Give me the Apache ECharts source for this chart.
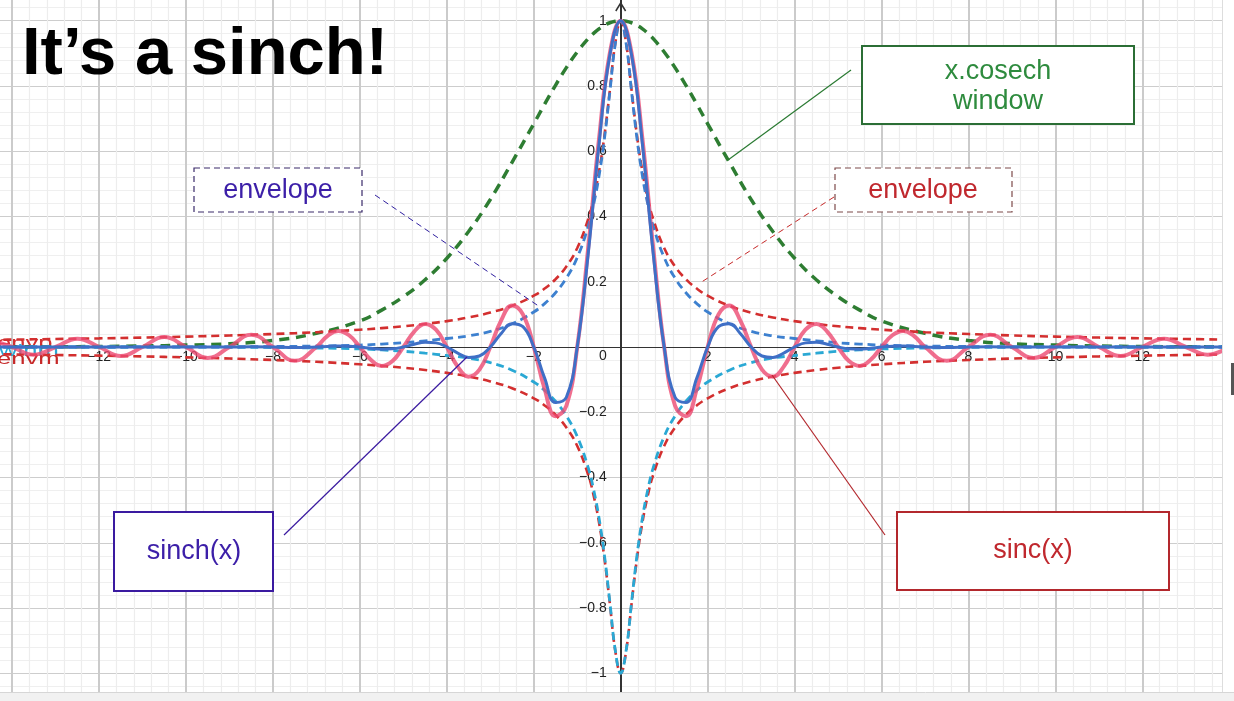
<!DOCTYPE html>
<html>
<head>
<meta charset="utf-8">
<script src="https://cdn.jsdelivr.net/npm/echarts@6/dist/echarts.min.js"></script>
<style>
html,body{margin:0;padding:0;background:#fff;overflow:hidden;}
#c{width:1234px;height:701px;}
</style>
</head>
<body>
<div id="c"></div>
<script>
// ---- data ----
const X_SINC = [-14.5,-14,-13.5,-13,-12.5,-12,-11.5,-11,-10.5,-10,-9.5,-9,-8.5,-8,-7.5,
  -7,-6.75,-6.5,-6.25,-6,-5.75,-5.5,-5.25,-5,-4.75,-4.5,-4.25,-4,-3.75,-3.5,-3.25,-3,-2.75,-2.5,-2.25,-2,-1.75,-1.5,-1.25,-1,-0.75,-0.5,-0.25,
  0,
  0.25,0.5,0.75,1,1.25,1.5,1.75,2,2.25,2.5,2.75,3,3.25,3.5,3.75,4,4.25,4.5,4.75,5,5.25,5.5,5.75,6,6.25,6.5,6.75,7,
  7.5,8,8.5,9,9.5,10,10.5,11,11.5,12,12.5,13,13.5,14];

const SINC = [0.0220,0,-0.0236,0,0.0255,0,-0.0277,0,0.0303,0,-0.0335,0,0.0374,0,-0.0424,
  0,0.0333,0.0490,0.0360,0,-0.0392,-0.0579,-0.0429,0,0.0474,0.0707,0.0530,0,-0.0600,-0.0909,-0.0693,0,0.0818,0.1273,0.1000,0,-0.1286,-0.2122,-0.1801,0,0.3001,0.6366,0.9003,
  1,
  0.9003,0.6366,0.3001,0,-0.1801,-0.2122,-0.1286,0,0.1000,0.1273,0.0818,0,-0.0693,-0.0909,-0.0600,0,0.0530,0.0707,0.0474,0,-0.0429,-0.0579,-0.0392,0,0.0360,0.0490,0.0333,0,
  -0.0424,0,0.0374,0,-0.0335,0,0.0303,0,-0.0277,0,0.0255,0,-0.0236,0];

const SINCH = [0,0,0,0,0,0,0,0,0,0,-0.0003,0,0.0006,0,-0.0014,
  0,0.0018,0.0030,0.0026,0,-0.0039,-0.0067,-0.0057,0,0.0085,0.0146,0.0126,0,-0.0186,-0.0321,-0.0277,0,0.0413,0.0716,0.0622,0,-0.0955,-0.1700,-0.1541,0,0.2834,0.6205,0.8945,
  1,
  0.8945,0.6205,0.2834,0,-0.1541,-0.1700,-0.0955,0,0.0622,0.0716,0.0413,0,-0.0277,-0.0321,-0.0186,0,0.0126,0.0146,0.0085,0,-0.0057,-0.0067,-0.0039,0,0.0026,0.0030,0.0018,0,
  -0.0014,0,0.0006,0,-0.0003,0,0,0,0,0,0,0,0,0];

const X_ENV = [-14.5,-14,-13,-12,-11,-10,-9,-8,-7,-6,-5.5,-5,-4.5,-4,-3.5,-3,-2.5,-2,-1.75,-1.5,-1.25,-1,-0.75,-0.625,-0.5,-0.375,-0.25,-0.125,
  0,
  0.125,0.25,0.375,0.5,0.625,0.75,1,1.25,1.5,1.75,2,2.5,3,3.5,4,4.5,5,5.5,6,7,8,9,10,11,12,13,14];

// sinc envelope (red dashed), upper and lower
const ENVP = [0.0219,0.0227,0.0245,0.0265,0.0289,0.0318,0.0354,0.0398,0.0454,0.0530,0.0578,0.0635,0.0706,0.0793,0.0906,0.1055,0.1263,0.1572,0.1790,0.2076,0.2468,0.3033,0.3907,0.4538,0.5370,0.6471,0.7864,0.9309,
  1,
  0.9309,0.7864,0.6471,0.5370,0.4538,0.3907,0.3033,0.2468,0.2076,0.1790,0.1572,0.1263,0.1055,0.0906,0.0793,0.0706,0.0635,0.0578,0.0530,0.0454,0.0398,0.0354,0.0318,0.0289,0.0265,0.0245,0.0227];
const ENVM = [-0.0219,-0.0227,-0.0245,-0.0265,-0.0289,-0.0318,-0.0354,-0.0398,-0.0454,-0.0530,-0.0578,-0.0635,-0.0706,-0.0793,-0.0906,-0.1055,-0.1263,-0.1572,-0.1790,-0.2076,-0.2468,-0.3033,-0.3907,-0.4538,-0.5370,-0.6471,-0.7864,-0.9309,
  -1,
  -0.9309,-0.7864,-0.6471,-0.5370,-0.4538,-0.3907,-0.3033,-0.2468,-0.2076,-0.1790,-0.1572,-0.1263,-0.1055,-0.0906,-0.0793,-0.0706,-0.0635,-0.0578,-0.0530,-0.0454,-0.0398,-0.0354,-0.0318,-0.0289,-0.0265,-0.0245,-0.0227];

// sinch envelope (blue / cyan dashed)
const WINP = [0,0,0,0,0.0001,0.0003,0.0007,0.0015,0.0030,0.0060,0.0090,0.0130,0.0190,0.0260,0.0340,0.0480,0.0710,0.1073,0.1330,0.1663,0.2112,0.2742,0.3690,0.4361,0.5235,0.6378,0.7814,0.9294,
  1,
  0.9294,0.7814,0.6378,0.5235,0.4361,0.3690,0.2742,0.2112,0.1663,0.1330,0.1073,0.0710,0.0480,0.0340,0.0260,0.0190,0.0130,0.0090,0.0060,0.0030,0.0015,0.0007,0.0003,0.0001,0,0,0];
const WINM = [0,0,0,0,-0.0001,-0.0003,-0.0007,-0.0015,-0.0030,-0.0060,-0.0090,-0.0130,-0.0190,-0.0260,-0.0340,-0.0480,-0.0710,-0.1073,-0.1330,-0.1663,-0.2112,-0.2742,-0.3690,-0.4361,-0.5235,-0.6378,-0.7814,-0.9294,
  -1,
  -0.9294,-0.7814,-0.6378,-0.5235,-0.4361,-0.3690,-0.2742,-0.2112,-0.1663,-0.1330,-0.1073,-0.0710,-0.0480,-0.0340,-0.0260,-0.0190,-0.0130,-0.0090,-0.0060,-0.0030,-0.0015,-0.0007,-0.0003,-0.0001,0,0,0];

// x.cosech window (green dashed)
const WINDOW = [0.0003,0.0004,0.0008,0.0015,0.0030,0.0058,0.0100,0.0200,0.0420,0.0800,0.1130,0.1540,0.2060,0.2720,0.3540,0.4520,0.5660,0.6840,0.7440,0.8020,0.8560,0.9040,0.9445,0.9610,0.9748,0.9856,0.9936,0.9984,
  1,
  0.9984,0.9936,0.9856,0.9748,0.9610,0.9445,0.9040,0.8560,0.8020,0.7440,0.6840,0.5660,0.4520,0.3540,0.2720,0.2060,0.1540,0.1130,0.0800,0.0420,0.0200,0.0100,0.0058,0.0030,0.0015,0.0008,0.0004];

const X_TICKS = [-12,-10,-8,-6,-4,-2,2,4,6,8,10,12];
const Y_TICKS = [1,0.8,0.6,0.4,0.2,-0.2,-0.4,-0.6,-0.8,-1];

// ---- chart ----
function pairs(xs, ys){ return xs.map((x,i)=>[x, ys[i]]); }
function fmtNum(v){ return v < 0 ? '\u2212' + String(-v) : String(v); }
const FONT = "'Liberation Sans', Arial, sans-serif";

// plot placement: x in [-16,14], y in [-1.2,1.2]
const G_LEFT = -74.8, G_TOP = -44.6, G_W = 1304.1, G_H = 783.2;
const X_MIN = -16, X_MAX = 14, Y_MIN = -1.2, Y_MAX = 1.2;
const zeroX = G_LEFT + G_W * (0 - X_MIN) / (X_MAX - X_MIN);
const zeroY = G_TOP + G_H * (Y_MAX - 0) / (Y_MAX - Y_MIN);

function lineSeries(name, xs, ys, color, width, type, opacity){
  return {
    type:'line', name, data: pairs(xs, ys), smooth: 0.45,
    showSymbol:false, symbol:'none', silent:true, z:3,
    lineStyle:{color, width, type, opacity: opacity == null ? 1 : opacity, cap:'butt'}
  };
}

const chart = echarts.init(document.getElementById('c'), null, {renderer:'canvas'});

const txt = (text, x, y, color, size, extra) => Object.assign({
  type:'text', x, y, z:100,
  style:{text, font: (extra && extra.weight ? extra.weight + ' ' : '') + size + 'px ' + FONT,
         fill: color, align: (extra && extra.align) || 'center', verticalAlign:'middle',
         textAlign: (extra && extra.align) || 'center', textVerticalAlign:'middle'}
}, extra && extra.z != null ? {z: extra.z} : {}, extra && extra.scaleX ? {scaleX: extra.scaleX} : {});

const rect = (x, y, w, h, stroke, lw, dash) => ({
  type:'rect', z:99, shape:{x, y, width:w, height:h},
  style:{fill:'#ffffff', stroke, lineWidth:lw, lineDash: dash || null}
});
const seg = (x1, y1, x2, y2, stroke, lw, dash) => ({
  type:'line', z:99, shape:{x1, y1, x2, y2},
  style:{stroke, lineWidth:lw, lineDash: dash || null}
});

const option = {
  animation:false,
  backgroundColor:'#ffffff',
  grid:{left:G_LEFT, top:G_TOP, width:G_W, height:G_H, containLabel:false, outerBoundsMode:'none'},
  xAxis:{
    type:'value', min:X_MIN, max:X_MAX, interval:2, position:'bottom',
    offset: -(G_TOP + G_H - zeroY),
    axisLine:{show:true, onZero:false, lineStyle:{color:'#333', width:1.2}},
    axisTick:{show:false},
    minorTick:{show:false, splitNumber:5},
    axisLabel:{
      margin:3, color:'#222', fontSize:14, fontFamily:FONT,
      formatter:v => { const r = Math.round(v*100)/100; return X_TICKS.includes(r) ? fmtNum(r) : ''; }
    },
    splitLine:{show:true, lineStyle:{color:'#cbcbcb', width:2}},
    minorSplitLine:{show:true, lineStyle:{color:'#ededed', width:1.2}}
  },
  yAxis:{
    type:'value', min:Y_MIN, max:Y_MAX, interval:0.2, position:'left',
    offset: -(zeroX - G_LEFT),
    axisLine:{show:true, onZero:false, lineStyle:{color:'#333', width:2}},
    axisTick:{show:false},
    minorTick:{show:false, splitNumber:5},
    axisLabel:{
      margin:14, color:'#222', fontSize:14, fontFamily:FONT,
      formatter:v => { const r = Math.round(v*100)/100; return Y_TICKS.includes(r) ? fmtNum(r) : ''; }
    },
    splitLine:{show:true, lineStyle:{color:'#cdcdcd', width:1.2}},
    minorSplitLine:{show:true, lineStyle:{color:'#efefef', width:1}}
  },
  series:[
    lineSeries('window', X_ENV, WINDOW, '#2e7d32', 3.5, [10,7]),
    lineSeries('envp', X_ENV, ENVP, '#d32f2f', 2.6, [8,5]),
    lineSeries('envm', X_ENV, ENVM, '#d32f2f', 2.6, [8,5]),
    lineSeries('winp', X_ENV, WINP, '#3d80cf', 2.8, [8,5]),
    lineSeries('winm', X_ENV, WINM, '#2aa8d4', 2.8, [8,5]),
    lineSeries('sinc', X_SINC, SINC, '#ec4a72', 4, 'solid', 0.8),
    lineSeries('sinch', X_SINC, SINCH, '#3f6fc6', 3, 'solid')
  ],
  graphic:{elements:[
    // function labels at the left edge (under the curves)
    txt('envp', -3, 344, '#d32f2f', 16, {align:'left', z:1, scaleX:1.6}),
    txt('winm', -1, 351.5, '#2aa8d4', 16, {align:'left', z:1, scaleX:1.6}),
    txt('envm', -3, 359.5, '#c62828', 16, {align:'left', z:1, scaleX:1.6}),
    // origin label
    txt('0', 603, 356, '#222', 14, {z:1}),
    // y-axis arrow head
    {type:'polyline', z:5, shape:{points:[[615.8,11],[620.7,3],[625.6,11]]}, style:{stroke:'#333', lineWidth:1.5, fill:null}},
    // title
    txt('It\u2019s a sinch!', 22, 56, '#000000', 67, {align:'left', weight:'bold'}),
    // x.cosech window
    seg(851, 70, 728, 160, '#2a7a32', 1.2),
    rect(862, 46, 272, 78, '#2b6e35', 2),
    txt('x.cosech', 998, 72, '#2e8b3e', 27),
    txt('window', 998, 101.5, '#2e8b3e', 27),
    // red envelope
    seg(834, 197, 700, 283, '#c62828', 1, [6,4]),
    rect(835, 168, 177, 44, '#7d4a4a', 1.2, [6,4]),
    txt('envelope', 923, 191, '#c0282e', 27),
    // blue envelope
    seg(375, 195, 540, 307, '#3020a0', 1, [6,4]),
    rect(194, 168, 168, 44, '#3a2a6a', 1.2, [6,4]),
    txt('envelope', 278, 191, '#3c1fa8', 27),
    // sinch(x)
    seg(284, 535, 467, 357, '#3a1aa0', 1.2),
    rect(114, 512, 159, 79, '#3a1aa0', 2),
    txt('sinch(x)', 194, 552, '#3c1fa8', 27),
    // sinc(x)
    seg(885, 535, 772, 375, '#b3282d', 1.2),
    rect(897, 512, 272, 78, '#b3282d', 2),
    txt('sinc(x)', 1033, 551, '#c0282e', 27),
    // frame strips
    {type:'rect', z:101, shape:{x:1222, y:0, width:12, height:701}, style:{fill:'#ffffff', stroke:null}},
    {type:'line', z:101, shape:{x1:1222.5, y1:0, x2:1222.5, y2:701}, style:{stroke:'#dddddd', lineWidth:1}},
    {type:'rect', z:101, shape:{x:1231, y:363, width:3, height:32}, style:{fill:'#555555'}},
    {type:'rect', z:101, shape:{x:0, y:693, width:1234, height:8}, style:{fill:'#f1f1f1', stroke:null}},
    {type:'line', z:101, shape:{x1:0, y1:692.5, x2:1234, y2:692.5}, style:{stroke:'#d6d6d6', lineWidth:1}}
  ]}
};
chart.setOption(option);
</script>
</body>
</html>
